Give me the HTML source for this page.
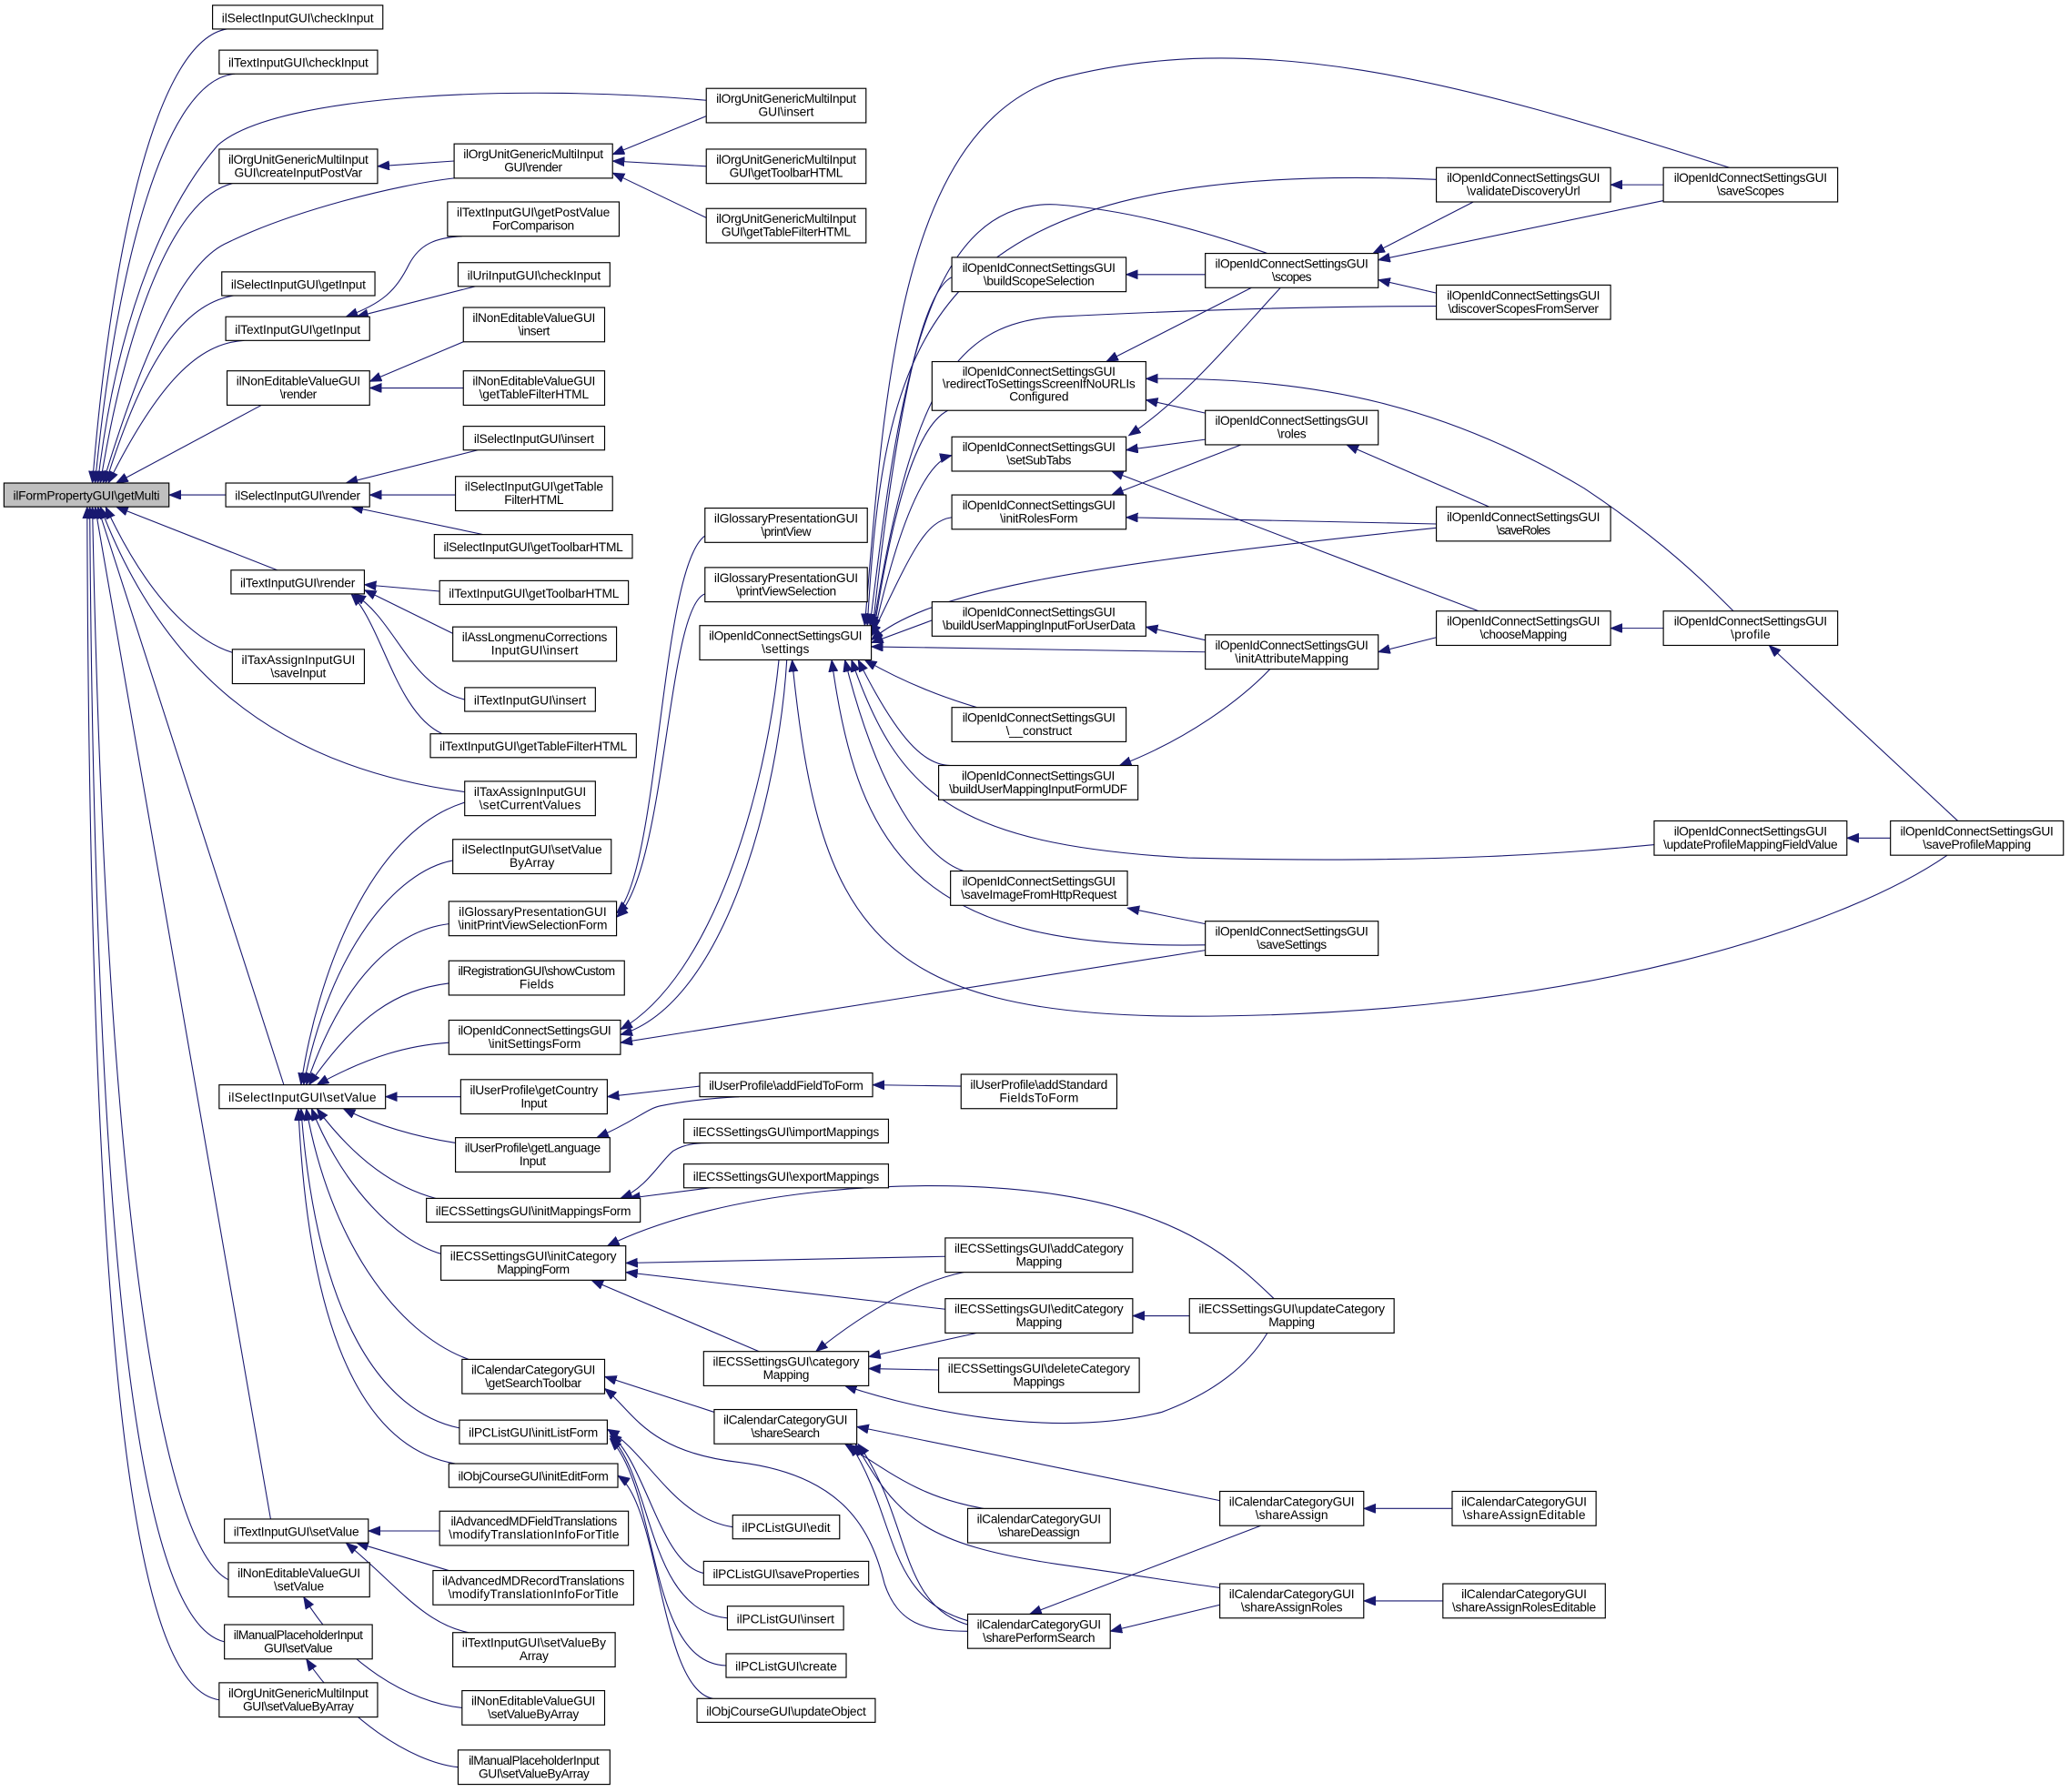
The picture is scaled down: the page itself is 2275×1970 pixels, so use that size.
<!DOCTYPE html>
<html><head><meta charset="utf-8"><style>
html,body{margin:0;padding:0;background:#fff;}
svg{display:block;}
text{font-family:"Liberation Sans",sans-serif;font-size:9.5px;fill:#000;text-anchor:middle;}
rect{fill:#fff;stroke:#000;stroke-width:0.8;}
rect.g{fill:#bfbfbf;}
path{fill:none;stroke:#191970;stroke-width:0.75;marker-start:url(#a);}
</style></head><body>
<svg width="2275" height="1970" viewBox="0 0 1568 1357.8" preserveAspectRatio="none" xmlns="http://www.w3.org/2000/svg" lengthAdjust="spacingAndGlyphs">
<defs><marker id="a" markerUnits="userSpaceOnUse" markerWidth="10" markerHeight="8" refX="9" refY="3.5" orient="auto-start-reverse"><path d="M0,0 L9,3.5 L0,7 z" style="fill:#191970;stroke:#191970;stroke-width:0.5;marker-start:none"/></marker></defs>

<!-- edges -->
<path d="M70,366 C85,180 120,30 172,22"/>
<path d="M72,366 C88,200 125,60 178,56"/>
<path d="M74,366 C90,230 130,150 165,110 C210,70 400,64 535,76"/>
<path d="M76,366 C95,250 130,150 176,139"/>
<path d="M78,366 C110,260 140,200 170,185 C220,160 300,140 344,135"/>
<path d="M80,366 C110,270 140,230 177,224"/>
<path d="M82,366 C120,290 150,260 185,258"/>
<path d="M88,366 L198,307"/>
<path d="M128,375 L171,375"/>
<path d="M88,384 L210,432"/>
<path d="M80,384 C120,470 160,490 178,495"/>
<path d="M76,384 C120,500 200,580 352,600"/>
<path d="M74,384 L215,822"/>
<path d="M72,384 L205,1151"/>
<path d="M70,384 C80,900 120,1170 173,1197"/>
<path d="M68,384 C72,1000 110,1230 170,1244"/>
<path d="M66,384 C68,1100 110,1280 166,1288"/>
<path d="M464,117 L535,88"/>
<path d="M464,122 L535,126"/>
<path d="M464,131 L535,165"/>
<path d="M286,126 L344,122"/>
<path d="M262,240 C290,230 300,220 310,200 C318,185 330,180 350,179"/>
<path d="M270,240 L360,217"/>
<path d="M280,289 L351,259"/>
<path d="M280,294 L351,294"/>
<path d="M262,366 L362,341"/>
<path d="M280,375 L345,375"/>
<path d="M266,384 L366,405"/>
<path d="M276,443 L333,448"/>
<path d="M276,447 L343,480"/>
<path d="M268,450 C300,470 310,520 352,530"/>
<path d="M266,450 C290,475 300,540 335,556"/>
<path d="M228,822 C240,740 280,630 352,608"/>
<path d="M230,822 C250,720 300,660 343,652"/>
<path d="M232,822 C260,740 300,705 340,700"/>
<path d="M234,822 C270,770 300,750 340,745"/>
<path d="M240,822 C280,800 310,792 340,790"/>
<path d="M292,831 L349,831"/>
<path d="M260,840 C290,855 320,862 345,866"/>
<path d="M240,840 C270,880 300,900 330,908"/>
<path d="M236,840 C260,900 300,940 334,950"/>
<path d="M232,840 C250,940 300,1010 355,1030"/>
<path d="M228,840 C240,1000 290,1070 348,1082"/>
<path d="M226,840 C235,1040 290,1100 345,1109"/>
<path d="M279,1160 L333,1160"/>
<path d="M270,1169 L340,1190"/>
<path d="M262,1169 C300,1200 320,1230 355,1237"/>
<path d="M230,1210 C260,1260 310,1290 350,1294"/>
<path d="M232,1257 C260,1300 310,1335 347,1339"/>
<path d="M467,692 C500,660 500,430 534,406"/>
<path d="M467,695 C505,660 505,460 534,450"/>
<path d="M470,780 C540,740 580,600 590,500"/>
<path d="M470,784 C550,760 590,600 596,500"/>
<path d="M470,790 L913,720"/>
<path d="M655,474 C670,300 680,100 800,60 C950,20 1100,60 1310,127"/>
<path d="M657,474 C670,250 700,120 1088,136"/>
<path d="M659,474 C680,300 700,150 800,155 C870,160 940,185 960,192"/>
<path d="M661,476 C680,300 700,220 721,210"/>
<path d="M661,478 C690,300 720,245 800,240 C900,235 1000,232 1088,232"/>
<path d="M662,478 C680,360 700,320 718,311"/>
<path d="M721,345 C700,350 680,400 662,480"/>
<path d="M660,482 C690,420 700,395 721,392"/>
<path d="M660,485 C700,450 800,430 1088,400"/>
<path d="M660,487 L706,470"/>
<path d="M660,490 L913,494"/>
<path d="M655,500 C690,520 720,530 740,536"/>
<path d="M650,500 C680,560 700,580 720,580"/>
<path d="M645,500 C680,600 720,640 900,650 C1100,655 1200,645 1253,640"/>
<path d="M640,500 C665,600 700,650 730,660"/>
<path d="M630,500 C650,650 700,720 913,716"/>
<path d="M600,500 C620,700 660,770 900,770 C1200,770 1400,700 1475,648"/>
<path d="M1040,192 L1116,153"/>
<path d="M1044,197 L1260,152"/>
<path d="M1044,212 L1088,222"/>
<path d="M1220,140 L1260,140"/>
<path d="M853,208 L913,208"/>
<path d="M838,274 L948,218"/>
<path d="M868,287 C1000,285 1100,310 1200,370 C1260,410 1290,440 1313,463"/>
<path d="M868,303 L913,313"/>
<path d="M853,341 L913,333"/>
<path d="M855,330 C900,300 940,250 970,218"/>
<path d="M842,357 L1120,463"/>
<path d="M842,375 L940,337"/>
<path d="M853,392 L1088,397"/>
<path d="M1020,337 L1128,384"/>
<path d="M868,475 L913,485"/>
<path d="M1044,494 L1088,483"/>
<path d="M848,580 C900,560 940,530 962,507"/>
<path d="M1220,476 L1260,476"/>
<path d="M1340,489 L1483,622"/>
<path d="M1399,635 L1432,635"/>
<path d="M854,688 L913,700"/>
<path d="M460,831 L530,823"/>
<path d="M452,862 C480,850 490,840 500,838 C520,834 540,832 560,831"/>
<path d="M661,822 L728,823"/>
<path d="M470,908 C490,900 500,880 510,872 C520,866 530,866 540,866"/>
<path d="M476,908 L538,900"/>
<path d="M460,944 C550,900 700,890 800,905 C900,920 940,960 965,984"/>
<path d="M474,957 L716,952"/>
<path d="M474,964 L716,992"/>
<path d="M448,970 L575,1024"/>
<path d="M618,1024 C660,990 700,970 730,964"/>
<path d="M658,1028 L740,1010"/>
<path d="M658,1037 L711,1038"/>
<path d="M640,1050 C700,1070 800,1090 880,1070 C920,1055 945,1035 960,1010"/>
<path d="M858,997 L901,997"/>
<path d="M458,1043 L541,1070"/>
<path d="M458,1052 C480,1070 490,1100 560,1108 C640,1118 660,1160 670,1200 C680,1230 700,1236 733,1236"/>
<path d="M460,1083 C490,1100 510,1150 555,1157"/>
<path d="M462,1086 C490,1110 500,1185 533,1192"/>
<path d="M462,1088 C495,1120 490,1220 551,1226"/>
<path d="M462,1090 C500,1130 490,1260 550,1262"/>
<path d="M468,1118 C500,1140 500,1280 540,1287"/>
<path d="M649,1081 L924,1137"/>
<path d="M640,1094 C680,1120 700,1135 745,1143"/>
<path d="M648,1094 C680,1150 700,1170 800,1185 C870,1195 900,1200 924,1203"/>
<path d="M644,1094 C680,1150 670,1210 733,1228"/>
<path d="M650,1094 C690,1150 680,1215 733,1231"/>
<path d="M780,1223 L955,1156"/>
<path d="M841,1236 L924,1216"/>
<path d="M1033,1143 L1100,1143"/>
<path d="M1033,1213 L1093,1213"/>

<!-- nodes -->
<rect class="g" x="3" y="366" width="125" height="18"/><text x="65.5" y="378.8" textLength="111">ilFormPropertyGUI\getMulti</text>
<rect x="161" y="4" width="129" height="18"/><text x="225.5" y="16.8" textLength="115">ilSelectInputGUI\checkInput</text>
<rect x="166" y="38" width="120" height="18"/><text x="226" y="50.8" textLength="106">ilTextInputGUI\checkInput</text>
<rect x="166" y="113" width="120" height="26"/><text x="226" y="124" textLength="106">ilOrgUnitGenericMultiInput</text><text x="226" y="134" textLength="97">GUI\createInputPostVar</text>
<rect x="168" y="206" width="116" height="18"/><text x="226" y="218.8" textLength="102">ilSelectInputGUI\getInput</text>
<rect x="171" y="240" width="109" height="18"/><text x="225.5" y="252.8" textLength="95">ilTextInputGUI\getInput</text>
<rect x="172" y="281" width="108" height="26"/><text x="226" y="292" textLength="94">ilNonEditableValueGUI</text><text x="226" y="302" textLength="28">\render</text>
<rect x="171" y="366" width="109" height="18"/><text x="225.5" y="378.8" textLength="95">ilSelectInputGUI\render</text>
<rect x="175" y="432" width="101" height="18"/><text x="225.5" y="444.8" textLength="87">ilTextInputGUI\render</text>
<rect x="176" y="492" width="100" height="26"/><text x="226" y="503" textLength="86">ilTaxAssignInputGUI</text><text x="226" y="513" textLength="42">\saveInput</text>
<rect x="166" y="822" width="126" height="18"/><text x="229" y="834.8" textLength="112">ilSelectInputGUI\setValue</text>
<rect x="170" y="1151" width="109" height="18"/><text x="224.5" y="1163.8" textLength="95">ilTextInputGUI\setValue</text>
<rect x="173" y="1184" width="107" height="26"/><text x="226.5" y="1195" textLength="93">ilNonEditableValueGUI</text><text x="226.5" y="1205" textLength="38">\setValue</text>
<rect x="170" y="1231" width="112" height="26"/><text x="226" y="1242" textLength="98">ilManualPlaceholderInput</text><text x="226" y="1252" textLength="52">GUI\setValue</text>
<rect x="166" y="1275" width="120" height="26"/><text x="226" y="1286" textLength="106">ilOrgUnitGenericMultiInput</text><text x="226" y="1296" textLength="84">GUI\setValueByArray</text>

<rect x="344" y="109" width="120" height="26"/><text x="404" y="120" textLength="106">ilOrgUnitGenericMultiInput</text><text x="404" y="130" textLength="44">GUI\render</text>
<rect x="339" y="153" width="130" height="26"/><text x="404" y="164" textLength="116">ilTextInputGUI\getPostValue</text><text x="404" y="174" textLength="62">ForComparison</text>
<rect x="347" y="199" width="115" height="18"/><text x="404.5" y="211.8" textLength="101">ilUriInputGUI\checkInput</text>
<rect x="351" y="233" width="107" height="26"/><text x="404.5" y="244" textLength="93">ilNonEditableValueGUI</text><text x="404.5" y="254" textLength="24">\insert</text>
<rect x="351" y="281" width="107" height="26"/><text x="404.5" y="292" textLength="93">ilNonEditableValueGUI</text><text x="404.5" y="302" textLength="83">\getTableFilterHTML</text>
<rect x="351" y="323" width="107" height="18"/><text x="404.5" y="335.8" textLength="91">ilSelectInputGUI\insert</text>
<rect x="345" y="361" width="119" height="26"/><text x="404.5" y="372" textLength="105">ilSelectInputGUI\getTable</text><text x="404.5" y="382" textLength="45">FilterHTML</text>
<rect x="329" y="405" width="150" height="18"/><text x="404" y="417.8" textLength="136">ilSelectInputGUI\getToolbarHTML</text>
<rect x="333" y="440" width="143" height="18"/><text x="404.5" y="452.8" textLength="129">ilTextInputGUI\getToolbarHTML</text>
<rect x="343" y="475" width="124" height="26"/><text x="405" y="486" textLength="110">ilAssLongmenuCorrections</text><text x="405" y="496" textLength="66">InputGUI\insert</text>
<rect x="352" y="521" width="99" height="18"/><text x="401.5" y="533.8" textLength="85">ilTextInputGUI\insert</text>
<rect x="326" y="556" width="156" height="18"/><text x="404" y="568.8" textLength="142">ilTextInputGUI\getTableFilterHTML</text>
<rect x="352" y="592" width="99" height="26"/><text x="401.5" y="603" textLength="85">ilTaxAssignInputGUI</text><text x="401.5" y="613" textLength="77">\setCurrentValues</text>
<rect x="343" y="636" width="120" height="26"/><text x="403" y="647" textLength="106">ilSelectInputGUI\setValue</text><text x="403" y="657" textLength="34">ByArray</text>
<rect x="340" y="683" width="127" height="26"/><text x="403.5" y="694" textLength="112">ilGlossaryPresentationGUI</text><text x="403.5" y="704" textLength="113">\initPrintViewSelectionForm</text>
<rect x="340" y="728" width="133" height="26"/><text x="406.5" y="739" textLength="119">ilRegistrationGUI\showCustom</text><text x="406.5" y="749" textLength="26">Fields</text>
<rect x="340" y="773" width="130" height="26"/><text x="405" y="784" textLength="116">ilOpenIdConnectSettingsGUI</text><text x="405" y="794" textLength="70">\initSettingsForm</text>
<rect x="349" y="818" width="111" height="26"/><text x="404.5" y="829" textLength="97">ilUserProfile\getCountry</text><text x="404.5" y="839" textLength="20">Input</text>
<rect x="345" y="862" width="117" height="26"/><text x="403.5" y="873" textLength="103">ilUserProfile\getLanguage</text><text x="403.5" y="883" textLength="20">Input</text>
<rect x="323" y="908" width="162" height="18"/><text x="404" y="920.8" textLength="148">ilECSSettingsGUI\initMappingsForm</text>
<rect x="334" y="944" width="140" height="26"/><text x="404" y="955" textLength="126">ilECSSettingsGUI\initCategory</text><text x="404" y="965" textLength="55">MappingForm</text>
<rect x="350" y="1030" width="108" height="26"/><text x="404" y="1041" textLength="94">ilCalendarCategoryGUI</text><text x="404" y="1051" textLength="73">\getSearchToolbar</text>
<rect x="348" y="1076" width="112" height="18"/><text x="404" y="1088.8" textLength="98">ilPCListGUI\initListForm</text>
<rect x="340" y="1109" width="128" height="18"/><text x="404" y="1121.8" textLength="114">ilObjCourseGUI\initEditForm</text>
<rect x="333" y="1145" width="143" height="26"/><text x="404.5" y="1156" textLength="126">ilAdvancedMDFieldTranslations</text><text x="404.5" y="1166" textLength="129">\modifyTranslationInfoForTitle</text>
<rect x="328" y="1190" width="152" height="26"/><text x="404" y="1201" textLength="138">ilAdvancedMDRecordTranslations</text><text x="404" y="1211" textLength="129">\modifyTranslationInfoForTitle</text>
<rect x="343" y="1237" width="123" height="26"/><text x="404.5" y="1248" textLength="109">ilTextInputGUI\setValueBy</text><text x="404.5" y="1258" textLength="22">Array</text>
<rect x="350" y="1281" width="108" height="26"/><text x="404" y="1292" textLength="94">ilNonEditableValueGUI</text><text x="404" y="1302" textLength="69">\setValueByArray</text>
<rect x="347" y="1326" width="115" height="26"/><text x="404.5" y="1337" textLength="99">ilManualPlaceholderInput</text><text x="404.5" y="1347" textLength="84">GUI\setValueByArray</text>

<rect x="535" y="67" width="121" height="26"/><text x="595.5" y="78" textLength="106">ilOrgUnitGenericMultiInput</text><text x="595.5" y="88" textLength="42">GUI\insert</text>
<rect x="535" y="113" width="121" height="26"/><text x="595.5" y="124" textLength="106">ilOrgUnitGenericMultiInput</text><text x="595.5" y="134" textLength="86">GUI\getToolbarHTML</text>
<rect x="535" y="158" width="121" height="26"/><text x="595.5" y="169" textLength="106">ilOrgUnitGenericMultiInput</text><text x="595.5" y="179" textLength="98">GUI\getTableFilterHTML</text>
<rect x="534" y="385" width="123" height="26"/><text x="595.5" y="396" textLength="109">ilGlossaryPresentationGUI</text><text x="595.5" y="406" textLength="38">\printView</text>
<rect x="534" y="430" width="123" height="26"/><text x="595.5" y="441" textLength="109">ilGlossaryPresentationGUI</text><text x="595.5" y="451" textLength="76">\printViewSelection</text>
<rect x="530" y="474" width="130" height="26"/><text x="595" y="485" textLength="116">ilOpenIdConnectSettingsGUI</text><text x="595" y="495" textLength="36">\settings</text>
<rect x="530" y="813" width="131" height="18"/><text x="595.5" y="825.8" textLength="117">ilUserProfile\addFieldToForm</text>
<rect x="518" y="848" width="155" height="18"/><text x="595.5" y="860.8" textLength="141">ilECSSettingsGUI\importMappings</text>
<rect x="518" y="882" width="155" height="18"/><text x="595.5" y="894.8" textLength="141">ilECSSettingsGUI\exportMappings</text>
<rect x="533" y="1024" width="125" height="26"/><text x="595.5" y="1035" textLength="111">ilECSSettingsGUI\category</text><text x="595.5" y="1045" textLength="35">Mapping</text>
<rect x="541" y="1068" width="108" height="26"/><text x="595" y="1079" textLength="94">ilCalendarCategoryGUI</text><text x="595" y="1089" textLength="52">\shareSearch</text>
<rect x="555" y="1148" width="81" height="18"/><text x="595.5" y="1160.8" textLength="67">ilPCListGUI\edit</text>
<rect x="533" y="1183" width="125" height="18"/><text x="595.5" y="1195.8" textLength="111">ilPCListGUI\saveProperties</text>
<rect x="551" y="1217" width="88" height="18"/><text x="595" y="1229.8" textLength="74">ilPCListGUI\insert</text>
<rect x="550" y="1253" width="91" height="18"/><text x="595.5" y="1265.8" textLength="77">ilPCListGUI\create</text>
<rect x="528" y="1287" width="135" height="18"/><text x="595.5" y="1299.8" textLength="121">ilObjCourseGUI\updateObject</text>

<rect x="721" y="195" width="132" height="26"/><text x="787" y="206" textLength="116">ilOpenIdConnectSettingsGUI</text><text x="787" y="216" textLength="84">\buildScopeSelection</text>
<rect x="706" y="274" width="162" height="37"/><text x="787" y="284.5" textLength="116">ilOpenIdConnectSettingsGUI</text><text x="787" y="294" textLength="146">\redirectToSettingsScreenIfNoURLIs</text><text x="787" y="303.5" textLength="45">Configured</text>
<rect x="721" y="331" width="132" height="26"/><text x="787" y="342" textLength="116">ilOpenIdConnectSettingsGUI</text><text x="787" y="352" textLength="49">\setSubTabs</text>
<rect x="721" y="375" width="132" height="26"/><text x="787" y="386" textLength="116">ilOpenIdConnectSettingsGUI</text><text x="787" y="396" textLength="59">\initRolesForm</text>
<rect x="706" y="456" width="162" height="26"/><text x="787" y="467" textLength="116">ilOpenIdConnectSettingsGUI</text><text x="787" y="477" textLength="146">\buildUserMappingInputForUserData</text>
<rect x="721" y="536" width="132" height="26"/><text x="787" y="547" textLength="116">ilOpenIdConnectSettingsGUI</text><text x="787" y="557" textLength="50">\__construct</text>
<rect x="711" y="580" width="151" height="26"/><text x="786.5" y="591" textLength="116">ilOpenIdConnectSettingsGUI</text><text x="786.5" y="601" textLength="135">\buildUserMappingInputFormUDF</text>
<rect x="720" y="660" width="134" height="26"/><text x="787" y="671" textLength="116">ilOpenIdConnectSettingsGUI</text><text x="787" y="681" textLength="118">\saveImageFromHttpRequest</text>
<rect x="728" y="814" width="118" height="26"/><text x="787" y="825" textLength="104">ilUserProfile\addStandard</text><text x="787" y="835" textLength="60">FieldsToForm</text>
<rect x="716" y="938" width="142" height="26"/><text x="787" y="949" textLength="128">ilECSSettingsGUI\addCategory</text><text x="787" y="959" textLength="35">Mapping</text>
<rect x="716" y="984" width="142" height="26"/><text x="787" y="995" textLength="128">ilECSSettingsGUI\editCategory</text><text x="787" y="1005" textLength="35">Mapping</text>
<rect x="711" y="1029" width="152" height="26"/><text x="787" y="1040" textLength="138">ilECSSettingsGUI\deleteCategory</text><text x="787" y="1050" textLength="39">Mappings</text>
<rect x="733" y="1143" width="108" height="26"/><text x="787" y="1154" textLength="94">ilCalendarCategoryGUI</text><text x="787" y="1164" textLength="62">\shareDeassign</text>
<rect x="733" y="1223" width="108" height="26"/><text x="787" y="1234" textLength="94">ilCalendarCategoryGUI</text><text x="787" y="1244" textLength="85">\sharePerformSearch</text>

<rect x="1088" y="127" width="132" height="26"/><text x="1154" y="138" textLength="116">ilOpenIdConnectSettingsGUI</text><text x="1154" y="148" textLength="86">\validateDiscoveryUrl</text>
<rect x="913" y="192" width="131" height="26"/><text x="978.5" y="203" textLength="116">ilOpenIdConnectSettingsGUI</text><text x="978.5" y="213" textLength="30">\scopes</text>
<rect x="1088" y="216" width="132" height="26"/><text x="1154" y="227" textLength="116">ilOpenIdConnectSettingsGUI</text><text x="1154" y="237" textLength="114">\discoverScopesFromServer</text>
<rect x="913" y="311" width="131" height="26"/><text x="978.5" y="322" textLength="116">ilOpenIdConnectSettingsGUI</text><text x="978.5" y="332" textLength="22">\roles</text>
<rect x="1088" y="384" width="132" height="26"/><text x="1154" y="395" textLength="116">ilOpenIdConnectSettingsGUI</text><text x="1154" y="405" textLength="41">\saveRoles</text>
<rect x="913" y="481" width="131" height="26"/><text x="978.5" y="492" textLength="116">ilOpenIdConnectSettingsGUI</text><text x="978.5" y="502" textLength="86">\initAttributeMapping</text>
<rect x="1088" y="463" width="132" height="26"/><text x="1154" y="474" textLength="116">ilOpenIdConnectSettingsGUI</text><text x="1154" y="484" textLength="66">\chooseMapping</text>
<rect x="913" y="698" width="131" height="26"/><text x="978.5" y="709" textLength="116">ilOpenIdConnectSettingsGUI</text><text x="978.5" y="719" textLength="53">\saveSettings</text>
<rect x="1253" y="622" width="146" height="26"/><text x="1326" y="633" textLength="116">ilOpenIdConnectSettingsGUI</text><text x="1326" y="643" textLength="132">\updateProfileMappingFieldValue</text>
<rect x="1260" y="127" width="132" height="26"/><text x="1326" y="138" textLength="116">ilOpenIdConnectSettingsGUI</text><text x="1326" y="148" textLength="51">\saveScopes</text>
<rect x="1260" y="463" width="132" height="26"/><text x="1326" y="474" textLength="116">ilOpenIdConnectSettingsGUI</text><text x="1326" y="484" textLength="30">\profile</text>
<rect x="1432" y="622" width="131" height="26"/><text x="1497.5" y="633" textLength="116">ilOpenIdConnectSettingsGUI</text><text x="1497.5" y="643" textLength="82">\saveProfileMapping</text>
<rect x="901" y="984" width="155" height="26"/><text x="978.5" y="995" textLength="141">ilECSSettingsGUI\updateCategory</text><text x="978.5" y="1005" textLength="35">Mapping</text>
<rect x="924" y="1130" width="109" height="26"/><text x="978.5" y="1141" textLength="95">ilCalendarCategoryGUI</text><text x="978.5" y="1151" textLength="55">\shareAssign</text>
<rect x="924" y="1200" width="109" height="26"/><text x="978.5" y="1211" textLength="95">ilCalendarCategoryGUI</text><text x="978.5" y="1221" textLength="77">\shareAssignRoles</text>
<rect x="1100" y="1130" width="109" height="26"/><text x="1154.5" y="1141" textLength="95">ilCalendarCategoryGUI</text><text x="1154.5" y="1151" textLength="93">\shareAssignEditable</text>
<rect x="1093" y="1200" width="123" height="26"/><text x="1154.5" y="1211" textLength="95">ilCalendarCategoryGUI</text><text x="1154.5" y="1221" textLength="109">\shareAssignRolesEditable</text>
</svg>
</body></html>
